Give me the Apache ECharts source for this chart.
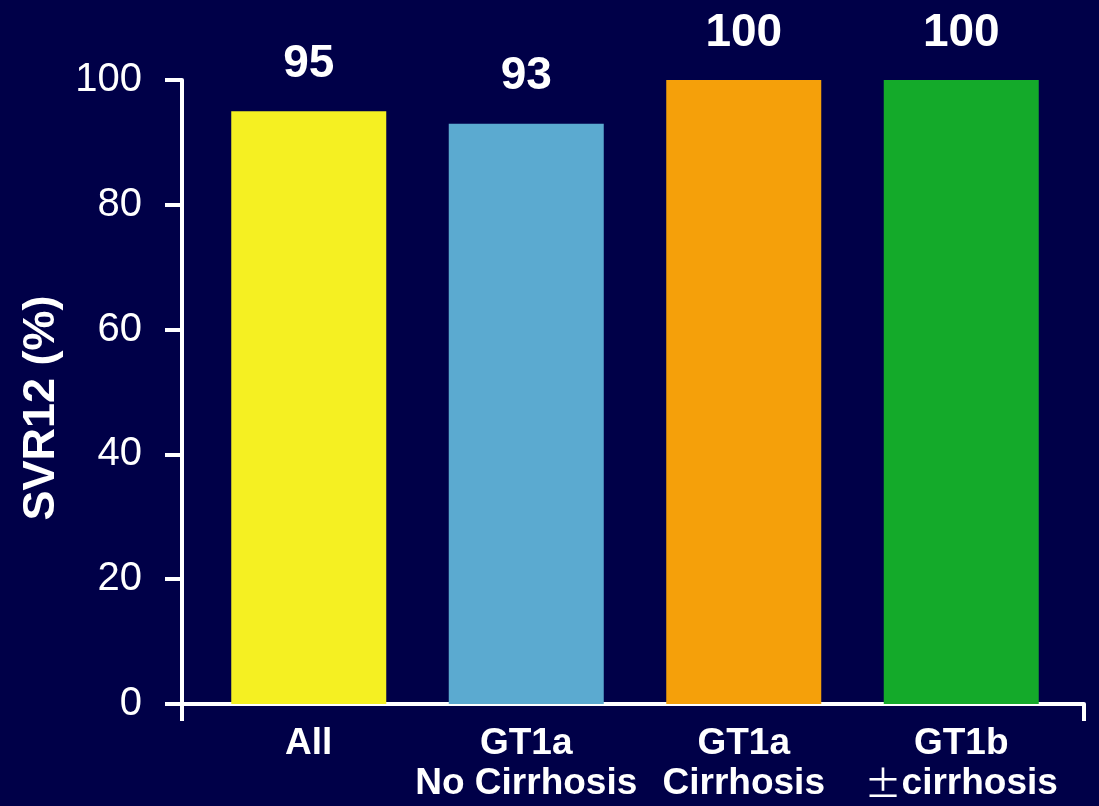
<!DOCTYPE html>
<html>
<head>
<meta charset="utf-8">
<script src="https://cdn.jsdelivr.net/npm/echarts@6/dist/echarts.min.js"></script>
<style>
  html, body { margin: 0; padding: 0; background: #000048; }
  #chart { width: 1099px; height: 806px; }
</style>
</head>
<body>
<div id="chart"></div>
<script>
// chart data
var categories = ['All', 'GT1a\nNo Cirrhosis', 'GT1a\nCirrhosis', 'GT1b\n\u00B1cirrhosis'];
var svrValues = [95, 93, 100, 100];
var barColors = ['#F5F022', '#5BAAD0', '#F5A00A', '#14AA2A'];
var yTicks = [0, 20, 40, 60, 80, 100];

var font = '"Liberation Sans", Arial, sans-serif';
var myChart = echarts.init(document.getElementById('chart'));

var option = {
    backgroundColor: '#000048',
    animation: false,
    grid: [
        // grid for the bars
        { left: 200, right: 29, top: 80, bottom: 102 },
        // grid only for the long x axis line with end ticks
        { left: 182, right: 15, top: 80, bottom: 102 }
    ],
    xAxis: [
        {
            type: 'category',
            gridIndex: 0,
            data: categories,
            axisLine: { show: false },
            axisTick: { show: false },
            axisLabel: {
                interval: 0,
                color: '#ffffff',
                fontFamily: font,
                fontWeight: 'bold',
                fontSize: 37,
                lineHeight: 40,
                margin: 20,
                formatter: function (v) {
                    return v.replace('\u00B1', '{pm|\u00B1}');
                },
                rich: {
                    pm: {
                        color: '#ffffff',
                        fontFamily: '"Noto Sans CJK JP", sans-serif',
                        fontWeight: 'normal',
                        fontSize: 37,
                        lineHeight: 40
                    }
                }
            }
        },
        {
            // plain value axis 0..1 so the ticks sit only at both ends
            type: 'value',
            gridIndex: 1,
            min: 0,
            max: 1,
            interval: 1,
            splitLine: { show: false },
            axisLine: { show: true, lineStyle: { color: '#ffffff', width: 4 } },
            axisTick: { show: true, length: 17, lineStyle: { color: '#ffffff', width: 4 } },
            axisLabel: { show: false }
        }
    ],
    yAxis: [
        {
            type: 'value',
            gridIndex: 0,
            min: 0,
            max: 100,
            interval: 20,
            offset: 18,
            name: 'SVR12 (%)',
            nameLocation: 'middle',
            nameGap: 110,
            nameTextStyle: {
                color: '#ffffff',
                fontFamily: font,
                fontWeight: 'bold',
                fontSize: 45,
                padding: [0, 32, 0, 0]
            },
            splitLine: { show: false },
            axisLine: { show: true, lineStyle: { color: '#ffffff', width: 4 } },
            axisTick: { show: true, length: 17, lineStyle: { color: '#ffffff', width: 4 } },
            axisLabel: {
                color: '#ffffff',
                fontFamily: font,
                fontSize: 40,
                margin: 40,
                formatter: function (v) {
                    return yTicks.indexOf(v) >= 0 ? String(v) : '';
                }
            }
        },
        {
            type: 'value',
            gridIndex: 1,
            min: 0,
            max: 100,
            show: false
        }
    ],
    series: [
        {
            type: 'bar',
            xAxisIndex: 0,
            yAxisIndex: 0,
            barWidth: 155,
            data: svrValues.map(function (v, i) {
                return { value: v, itemStyle: { color: barColors[i] } };
            }),
            label: {
                show: true,
                position: 'top',
                distance: 24,
                color: '#ffffff',
                fontFamily: font,
                fontWeight: 'bold',
                fontSize: 46
            }
        }
    ]
};

myChart.setOption(option);
</script>
</body>
</html>
